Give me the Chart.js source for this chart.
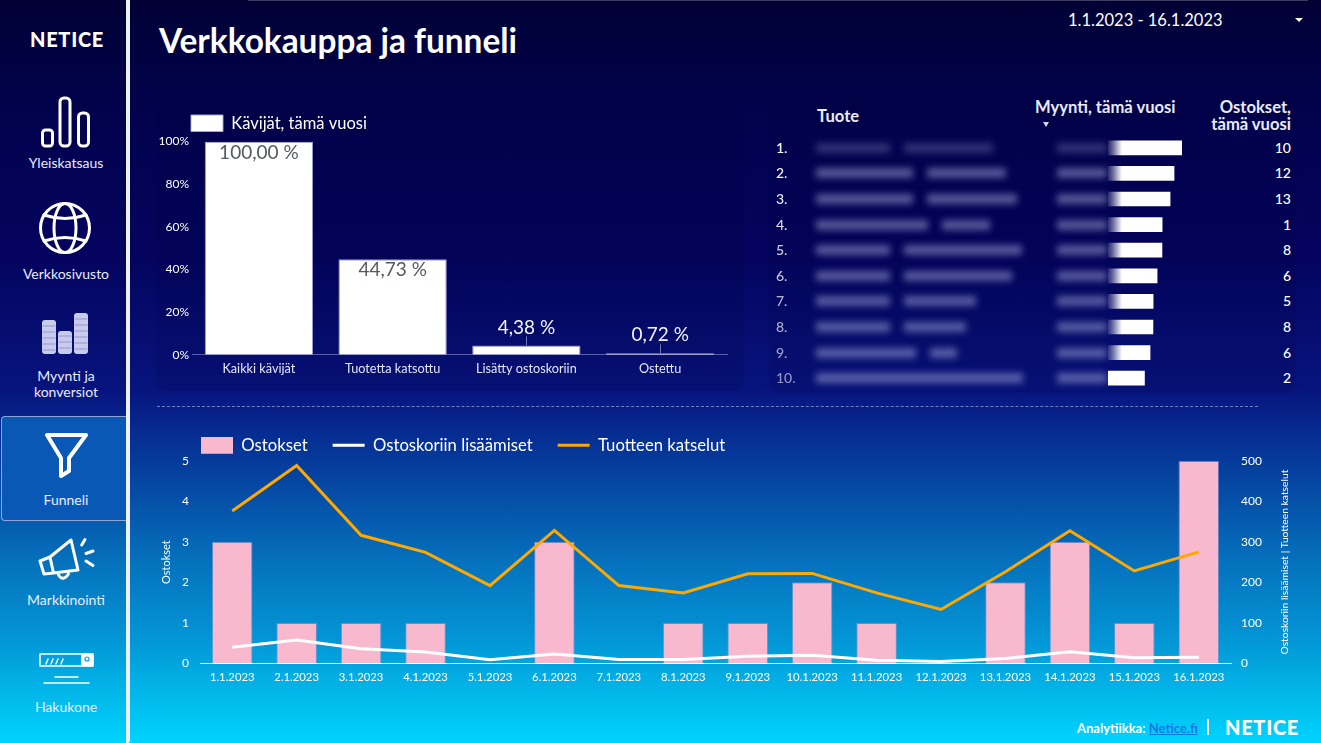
<!DOCTYPE html>
<html lang="fi">
<head>
<meta charset="utf-8">
<title>Verkkokauppa ja funneli</title>
<script src="https://cdn.jsdelivr.net/npm/chart.js@4"></script>
<style>
    html, body { margin: 0; padding: 0; }
    body {
        position: relative;
        width: 1321px;
        height: 743px;
        overflow: hidden;
        font-family: Lato, sans-serif;
        color: #fff;
        background: linear-gradient(180deg, #010136 0, #020250 130px, #04045f 260px, #07147e 390px, #062a90 430px, #0570bc 560px, #0396d6 640px, #02b8ea 695px, #00d4ff 743px);
    }
    .abs, .nav-item, .box { position: absolute; }
    .divider { left: 126px; top: 0; width: 4px; height: 743px; background: #eef0fa; border-radius: 0 0 3px 0; }
    .top-line { left: 248px; top: 0; width: 1060px; height: 1px; background: #3c3f63; }
    .logo { font-weight: 900; letter-spacing: 0.7px; line-height: 1; }
    .nav-item { left: 0; width: 132px; text-align: center; font-size: 14px; line-height: 16px; color: #e9ecfa; }
    .selected { left: 1px; top: 416px; width: 124px; height: 103px; border: 1px solid #8ba6dc; border-right: 0; border-radius: 4px 0 0 4px; background: #0a58b6; }
    h1 { position: absolute; left: 159px; top: 21px; margin: 0; font-size: 33.4px; line-height: 38px; font-weight: 700; }
    .date { left: 1068px; top: 10px; font-size: 16.5px; line-height: 20px; }
    .arrow { left: 1295px; top: 18px; width: 0; height: 0; border: 4px solid transparent; border-top-color: #fff; }
    .card { border-radius: 8px; background: rgba(0, 0, 50, 0.12); box-shadow: 0 1px 2px rgba(0, 0, 40, 0.25); }
    .separator { left: 157px; top: 406px; width: 1101px; border-top: 1px dashed rgba(190, 195, 225, 0.6); }
    .th { font-size: 16.6px; font-weight: 700; line-height: 17px; color: #e9ebf8; }
    .cell { font-size: 14px; line-height: 18px; font-weight: 500; }
    .mask { position: absolute; height: 10px; background: rgba(200, 205, 245, 0.42); filter: blur(3.5px); }
    canvas { display: block; position: absolute; }
</style>
</head>
<body>
<div class="abs divider"></div>
<div class="abs top-line"></div>

<div class="abs logo" style="left:30px;top:29px;font-size:20px">NETICE</div>

<div class="box selected"></div>

<svg class="abs" style="left:0;top:0" width="126" height="743" fill="none" stroke="#fff" stroke-width="3" stroke-linejoin="round" stroke-linecap="round">
    <!-- Yleiskatsaus -->
    <rect x="42.5" y="130" width="10" height="16" rx="3"/>
    <rect x="60" y="98" width="10" height="48" rx="4"/>
    <rect x="78.5" y="113" width="10" height="33" rx="4"/>
    <!-- Verkkosivusto -->
    <circle cx="65" cy="228" r="24.5"/>
    <ellipse cx="65" cy="228" rx="11" ry="24.5"/>
    <path d="M44 215 Q65 222 86 215 M44 241 Q65 234 86 241"/>
    <!-- Myynti -->
    <g stroke="none" fill="#c9cbec">
        <rect x="42" y="320" width="14" height="34" rx="3"/>
        <rect x="58" y="331" width="14" height="23" rx="3"/>
        <rect x="74" y="313" width="14" height="41" rx="3"/>
    </g>
    <path stroke="#9396d2" stroke-width="1" d="M43 326h12M43 332h12M43 338h12M43 344h12M43 350h12M59 336h12M59 342h12M59 348h12M75 319h12M75 325h12M75 331h12M75 337h12M75 343h12M75 349h12"/>
    <!-- Funneli -->
    <path stroke-width="4" d="M47 435 H86 L69 458 V471 L61 476 V458 Z"/>
    <!-- Markkinointi -->
    <path stroke-width="3" d="M40 561 L50 557 L53.5 573 L44 574 Z M50 557 L71 540 L78 570 L53.5 573 M58.5 575 Q63 582 68.5 574 M81.7 545 L85 539.5 M86 553.5 L93 551 M86 561 L93 565.5"/>
    <!-- Hakukone -->
    <rect x="40" y="654" width="53" height="12" stroke-width="1.5"/>
    <rect x="82" y="654" width="11" height="12" fill="#fff" stroke-width="1"/>
    <path stroke-width="1.5" d="M46 664l2-5M51 664l2-5M56 664l2-5M61 664l2-5"/>
    <circle cx="87" cy="659" r="2" stroke="#0aa0dc" stroke-width="1.2"/>
    <path stroke-width="1.5" d="M55 677H78M44 683H89"/>
</svg>

<div class="nav-item" style="top:155px">Yleiskatsaus</div>
<div class="nav-item" style="top:266px">Verkkosivusto</div>
<div class="nav-item" style="top:368px">Myynti ja<br>konversiot</div>
<div class="nav-item" style="top:492px">Funneli</div>
<div class="nav-item" style="top:592px">Markkinointi</div>
<div class="nav-item" style="top:699px">Hakukone</div>

<h1>Verkkokauppa ja funneli</h1>
<div class="abs date">1.1.2023 - 16.1.2023</div>
<div class="abs arrow"></div>

<div class="abs card" style="left:157px;top:108px;width:586px;height:281px"></div>
<div class="abs card" style="left:770px;top:95px;width:525px;height:296px"></div>
<div class="abs separator"></div>

<canvas id="funnelChart" width="600" height="279" style="left:150px;top:105px"></canvas>

<div class="abs th" style="left:817px;top:108px">Tuote</div>
<div class="abs th" style="left:1035px;top:99px">Myynti, tämä vuosi</div>
<div class="abs" style="left:1043px;top:122px;width:0;height:0;border:3.5px solid transparent;border-top:5px solid #d8dbef"></div>
<div class="abs th" style="left:1191px;top:99px;width:100px;text-align:right">Ostokset,<br>tämä vuosi</div>
<div id="tableRows"></div>
<canvas id="salesChart" width="74" height="256" style="left:1108px;top:135px"></canvas>

<canvas id="dailyChart" width="1150" height="282" style="left:150px;top:409px"></canvas>

<div class="abs" style="left:1077px;top:720px;font-size:13px;font-weight:700;line-height:16px">Analytiikka: <span style="color:#1577e8;text-decoration:underline">Netice.fi</span></div>
<div class="abs" style="left:1207px;top:719px;width:2px;height:16px;background:#fff"></div>
<div class="abs logo" style="left:1225px;top:717px;font-size:20px">NETICE</div>

<script>
const funnelSteps = ['Kaikki kävijät', 'Tuotetta katsottu', 'Lisätty ostoskoriin', 'Ostettu'];
const funnelShares = [100, 44.73, 4.38, 0.72];
const funnelTicks = [0, 20, 40, 60, 80, 100];

const days = ['1.1.2023', '2.1.2023', '3.1.2023', '4.1.2023', '5.1.2023', '6.1.2023', '7.1.2023', '8.1.2023',
    '9.1.2023', '10.1.2023', '11.1.2023', '12.1.2023', '13.1.2023', '14.1.2023', '15.1.2023', '16.1.2023'];
const purchases = [3, 1, 1, 1, 0, 3, 0, 1, 1, 2, 1, 0, 2, 3, 1, 5];
const cartAdds = [40, 58, 36, 28, 9, 23, 10, 10, 18, 20, 8, 5, 12, 29, 14, 15];
const productViews = [376, 488, 316, 274, 192, 328, 192, 174, 221, 222, 174, 133, 226, 327, 228, 275];

const productRanks = ['1.', '2.', '3.', '4.', '5.', '6.', '7.', '8.', '9.', '10.'];
const productSales = [2050, 1830, 1720, 1500, 1495, 1360, 1250, 1245, 1165, 1010];
const productPurchases = [10, 12, 13, 1, 8, 6, 5, 8, 6, 2];

Chart.defaults.font.family = 'Lato';
Chart.defaults.animation = false;
Chart.defaults.responsive = false;

// Native legend, moved so it starts above the plot like in the report
const legendPlace = {
    id: 'legendPlace',
    afterLayout(chart, args, opts) {
        chart.legend.left = opts.x;
        chart.legend.top = opts.y;
    }
};

// Percent labels: inside tall bars, above short ones with a small leader line
const shareLabels = {
    id: 'shareLabels',
    afterDatasetsDraw(chart) {
        const ctx = chart.ctx;
        const bars = chart.getDatasetMeta(0).data;
        ctx.save();
        ctx.textAlign = 'center';
        ctx.textBaseline = 'middle';
        ctx.font = '400 19px Lato';
        bars.forEach((bar, i) => {
            const value = funnelShares[i];
            const text = value.toFixed(2).replace('.', ',') + ' %';
            if (value > 20) {
                ctx.fillStyle = '#555a60';
                ctx.fillText(text, bar.x, bar.y + 11);
            } else {
                ctx.fillStyle = '#f2f3fc';
                ctx.fillText(text, bar.x, bar.y - 18);
                ctx.strokeStyle = 'rgba(160, 165, 210, 0.7)';
                ctx.beginPath();
                ctx.moveTo(Math.round(bar.x) + 0.5, bar.y - 9);
                ctx.lineTo(Math.round(bar.x) + 0.5, bar.y);
                ctx.stroke();
            }
        });
        ctx.restore();
    }
};

// Chart.js always turns a right axis title clockwise, the report has it counter-clockwise
const rightAxisTitle = {
    id: 'rightAxisTitle',
    afterDraw(chart, args, opts) {
        const ctx = chart.ctx;
        const scale = chart.scales.y1;
        ctx.save();
        ctx.translate(opts.x, (scale.top + scale.bottom) / 2);
        ctx.rotate(-Math.PI / 2);
        ctx.textAlign = 'center';
        ctx.textBaseline = 'middle';
        ctx.fillStyle = '#ffffff';
        ctx.font = '10.3px Lato';
        ctx.fillText(opts.text, 0, 0);
        ctx.restore();
    }
};

function initFunnelChart() {
    new Chart(document.getElementById('funnelChart'), {
        type: 'bar',
        data: {
            labels: funnelSteps,
            datasets: [{
                label: 'Kävijät, tämä vuosi',
                data: funnelShares,
                backgroundColor: '#ffffff',
                borderColor: 'rgba(170, 172, 220, 0.9)',
                borderWidth: 1,
                barPercentage: 0.81,
                categoryPercentage: 1
            }]
        },
        options: {
            layout: { padding: { left: 0, right: 23, top: 0, bottom: 0 } },
            plugins: {
                tooltip: { enabled: false },
                legendPlace: { x: 31, y: 0 },
                legend: {
                    align: 'start',
                    labels: {
                        color: '#ffffff',
                        font: { size: 16.5 },
                        boxHeight: 17,
                        usePointStyle: true,
                        pointStyle: 'rect',
                        pointStyleWidth: 32,
                        padding: 10
                    }
                }
            },
            scales: {
                x: {
                    grid: { display: false, drawTicks: false },
                    border: { color: 'rgba(110, 112, 190, 0.8)', width: 1 },
                    ticks: { color: '#e4e6f8', font: { size: 12.7 }, padding: 7, maxRotation: 0 }
                },
                y: {
                    min: 0,
                    max: 100,
                    afterFit(scale) { scale.width = 42; },
                    afterBuildTicks(scale) { scale.ticks = funnelTicks.map(value => ({ value })); },
                    grid: { display: false, drawTicks: false },
                    border: { display: false },
                    ticks: {
                        color: '#ffffff',
                        font: { size: 12 },
                        padding: 3,
                        callback: value => value + '%'
                    }
                }
            }
        },
        plugins: [legendPlace, shareLabels]
    });
}

function initDailyChart() {
    new Chart(document.getElementById('dailyChart'), {
        data: {
            labels: days,
            datasets: [{
                type: 'bar',
                label: 'Ostokset',
                data: purchases,
                yAxisID: 'y',
                order: 3,
                backgroundColor: '#f8b9cf',
                borderColor: 'rgba(165, 155, 215, 0.55)',
                borderWidth: 1,
                barPercentage: 0.63,
                categoryPercentage: 1
            }, {
                type: 'line',
                label: 'Ostoskoriin lisäämiset',
                data: cartAdds,
                yAxisID: 'y1',
                order: 2,
                borderColor: '#ffffff',
                backgroundColor: '#ffffff',
                borderWidth: 3,
                pointRadius: 0,
                tension: 0
            }, {
                type: 'line',
                label: 'Tuotteen katselut',
                data: productViews,
                yAxisID: 'y1',
                order: 1,
                borderColor: '#ffa800',
                backgroundColor: '#ffa800',
                borderWidth: 3,
                pointRadius: 0,
                tension: 0
            }]
        },
        options: {
            layout: { padding: 0 },
            plugins: {
                tooltip: { enabled: false },
                legendPlace: { x: 26, y: 3 },
                rightAxisTitle: { text: 'Ostoskoriin lisäämiset | Tuotteen katselut', x: 1135 },
                legend: {
                    align: 'start',
                    labels: {
                        color: '#ffffff',
                        font: { size: 16.7 },
                        usePointStyle: true,
                        pointStyleWidth: 32,
                        boxHeight: 17,
                        padding: 25,
                        generateLabels(chart) {
                            return chart.data.datasets.map((dataset, i) => ({
                                text: dataset.label,
                                datasetIndex: i,
                                fontColor: '#ffffff',
                                fillStyle: dataset.backgroundColor,
                                strokeStyle: dataset.type === 'line' ? dataset.borderColor : dataset.backgroundColor,
                                lineWidth: dataset.type === 'line' ? 3 : 0,
                                pointStyle: dataset.type === 'line' ? 'line' : 'rect'
                            }));
                        }
                    }
                }
            },
            scales: {
                x: {
                    grid: { display: false, drawTicks: false },
                    border: { color: '#ffffff', width: 1 },
                    ticks: { color: '#ffffff', font: { size: 11.3 }, padding: 7, maxRotation: 0, autoSkip: false }
                },
                y: {
                    position: 'left',
                    min: 0,
                    max: 5,
                    afterFit(scale) { scale.width = 50; },
                    grid: { display: false, drawTicks: false },
                    border: { display: false },
                    title: { display: true, text: 'Ostokset', color: '#ffffff', font: { size: 11 }, padding: { top: 10, bottom: 0 } },
                    ticks: { color: '#ffffff', font: { size: 12 }, stepSize: 1, padding: 11 }
                },
                y1: {
                    position: 'right',
                    min: 0,
                    max: 500,
                    afterFit(scale) { scale.width = 69; },
                    grid: { display: false, drawTicks: false },
                    border: { display: false },
                    ticks: { color: '#ffffff', font: { size: 12 }, stepSize: 100, padding: 10 }
                }
            }
        },
        plugins: [legendPlace, rightAxisTitle]
    });
}

function initSalesChart() {
    const canvas = document.getElementById('salesChart');
    // Bars melt into the blurred amount on their left, only the last one has a clean edge
    const melted = canvas.getContext('2d').createLinearGradient(0, 0, 14, 0);
    melted.addColorStop(0, 'rgba(255, 255, 255, 0.1)');
    melted.addColorStop(1, '#ffffff');

    new Chart(canvas, {
        type: 'bar',
        data: {
            labels: productRanks,
            datasets: [{
                data: productSales,
                backgroundColor: c => (c.dataIndex < productSales.length - 1 ? melted : '#ffffff'),
                barThickness: 14,
                categoryPercentage: 1
            }]
        },
        options: {
            indexAxis: 'y',
            layout: { padding: 0 },
            plugins: { legend: { display: false }, tooltip: { enabled: false } },
            scales: {
                x: { display: false, min: 0, max: productSales[0] },
                y: { display: false }
            }
        }
    });
}

// The names and amounts are blurred out in the report too, so only their blocks are drawn
function buildTable() {
    const rows = document.getElementById('tableRows');
    const nameBlocks = [[74, 89], [97, 79], [97, 90], [112, 48], [74, 118], [74, 108], [74, 72], [74, 62], [100, 27], [207, 0]];
    productRanks.forEach((rank, i) => {
        const y = 135 + 25.6 * i + 12.8;
        const rankFade = 1 - i * 0.05;
        const dim = i === 0 ? ';opacity:0.55' : '';
        let html = `<div class="abs cell" style="left:776px;top:${y - 9}px;opacity:${rankFade}">${rank}</div>`;
        const [first, second] = nameBlocks[i];
        html += `<div class="mask" style="left:816px;top:${y - 5}px;width:${first}px${dim}"></div>`;
        if (second) {
            html += `<div class="mask" style="left:${816 + first + 14}px;top:${y - 5}px;width:${second}px${dim}"></div>`;
        }
        html += `<div class="mask" style="left:1057px;top:${y - 5}px;width:50px${dim}"></div>`;
        html += `<div class="abs cell" style="left:1241px;width:50px;text-align:right;top:${y - 9}px">${productPurchases[i]}</div>`;
        rows.insertAdjacentHTML('beforeend', html);
    });
}

document.addEventListener('DOMContentLoaded', function() {
    initFunnelChart();
    initDailyChart();
    initSalesChart();
    buildTable();
});
</script>
</body>
</html>
